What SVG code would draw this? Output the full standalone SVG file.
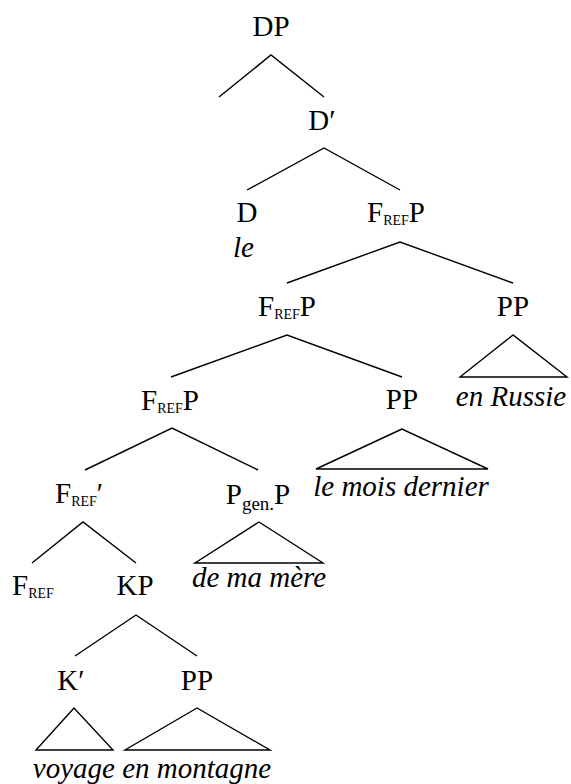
<svg xmlns="http://www.w3.org/2000/svg" width="571" height="784" viewBox="0 0 571 784">
<rect width="571" height="784" fill="#fff"/>
<g id="connectors" stroke="#000" stroke-width="1.4" fill="none">
<polyline points="219,97 271,55 324,97"/>
<polyline points="247,190 324,148 400,190"/>
<polyline points="287,283 400,242 513,283"/>
<polyline points="171,377 287,335 402,377"/>
<polygon points="513,335 460,377 567,377"/>
<polyline points="85,470 172,428 258,470"/>
<polygon points="402,429 316,469 488,469"/>
<polyline points="32,563 83,522 136,563"/>
<polygon points="259,522 195,563 323,563"/>
<polyline points="75,656 136,615 197,656"/>
<polygon points="74,708 36,750 113,750"/>
<polygon points="197,708 125,750 270,750"/>
</g>
<text id="dp" font-family="Times New Roman, Liberation Serif, serif" font-size="29" text-anchor="middle" x="271" y="36">DP</text>
<text id="dbar" font-family="Times New Roman, Liberation Serif, serif" font-size="29" text-anchor="middle" x="322" y="130">D&#8242;</text>
<text id="d" font-family="Times New Roman, Liberation Serif, serif" font-size="29" text-anchor="middle" x="247" y="222">D</text>
<text id="le" font-family="Times New Roman, Liberation Serif, serif" font-size="29" font-style="italic" x="233" y="257">le</text>
<text id="frefp1" font-family="Times New Roman, Liberation Serif, serif" font-size="29" text-anchor="middle" x="396" y="222">F<tspan font-size="14" dy="3">REF</tspan><tspan dy="-3">P</tspan></text>
<text id="frefp2" font-family="Times New Roman, Liberation Serif, serif" font-size="29" text-anchor="middle" x="287" y="316">F<tspan font-size="14" dy="3">REF</tspan><tspan dy="-3">P</tspan></text>
<text id="pp1" font-family="Times New Roman, Liberation Serif, serif" font-size="29" text-anchor="middle" x="513" y="316">PP</text>
<text id="russie" font-family="Times New Roman, Liberation Serif, serif" font-size="29" font-style="italic" text-anchor="middle" x="511" y="406">en Russie</text>
<text id="frefp3" font-family="Times New Roman, Liberation Serif, serif" font-size="29" text-anchor="middle" x="170" y="410">F<tspan font-size="14" dy="3">REF</tspan><tspan dy="-3">P</tspan></text>
<text id="pp2" font-family="Times New Roman, Liberation Serif, serif" font-size="29" text-anchor="middle" x="402" y="409">PP</text>
<text id="mois" font-family="Times New Roman, Liberation Serif, serif" font-size="29" font-style="italic" text-anchor="middle" x="401" y="496">le mois dernier</text>
<text id="frefbar" font-family="Times New Roman, Liberation Serif, serif" font-size="29" x="55" y="503">F<tspan font-size="14" dy="3">REF</tspan><tspan dy="-3">&#8242;</tspan></text>
<text id="pgenp" font-family="Times New Roman, Liberation Serif, serif" font-size="29" text-anchor="middle" x="258" y="504">P<tspan font-size="19" dy="6">gen.</tspan><tspan dy="-6">P</tspan></text>
<text id="mere" font-family="Times New Roman, Liberation Serif, serif" font-size="29" font-style="italic" text-anchor="middle" x="259" y="587">de ma m&#232;re</text>
<text id="fref" font-family="Times New Roman, Liberation Serif, serif" font-size="29" x="12" y="595">F<tspan font-size="14" dy="3">REF</tspan></text>
<text id="kp" font-family="Times New Roman, Liberation Serif, serif" font-size="29" text-anchor="middle" x="135" y="595">KP</text>
<text id="kbar" font-family="Times New Roman, Liberation Serif, serif" font-size="29" text-anchor="middle" x="71" y="690">K&#8242;</text>
<text id="pp3" font-family="Times New Roman, Liberation Serif, serif" font-size="29" text-anchor="middle" x="197" y="690">PP</text>
<text id="voyage" font-family="Times New Roman, Liberation Serif, serif" font-size="29" font-style="italic" text-anchor="middle" x="152" y="778">voyage en montagne</text>
</svg>
